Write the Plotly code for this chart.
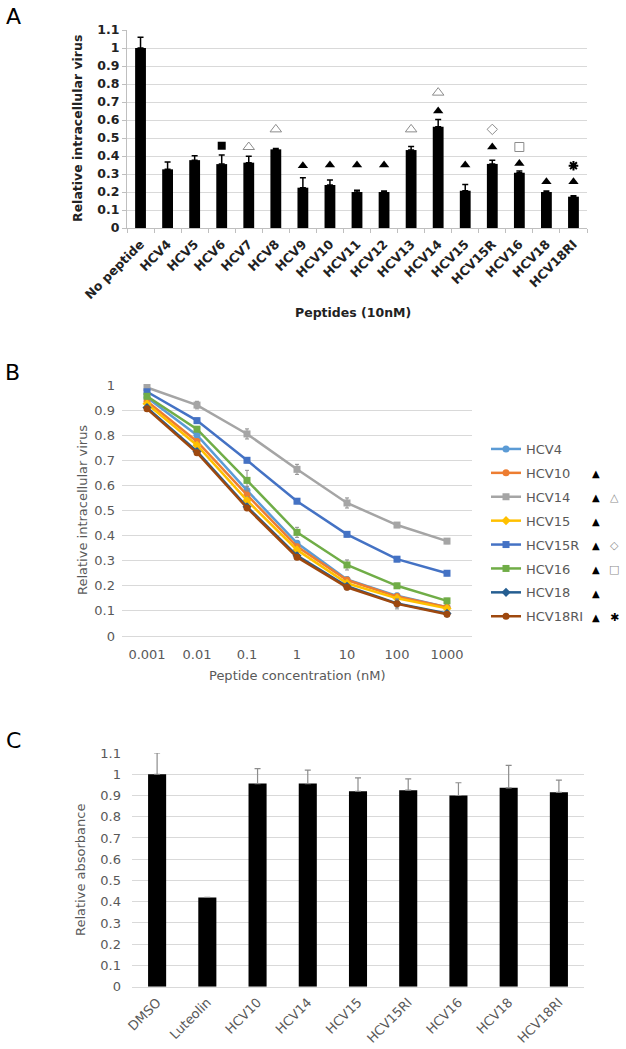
import plotly.graph_objects as go

W, H = 626, 1049
FONT = "DejaVu Sans"
GRID = "#D9D9D9"
TXT = "#595959"

# ---------------- Panel A data ----------------
a_categories = ["No peptide", "HCV4", "HCV5", "HCV6", "HCV7", "HCV8", "HCV9", "HCV10",
                "HCV11", "HCV12", "HCV13", "HCV14", "HCV15", "HCV15R", "HCV16", "HCV18", "HCV18RI"]
a_values = [1.0, 0.326, 0.377, 0.355, 0.363, 0.437, 0.224, 0.239, 0.2, 0.2,
            0.433, 0.563, 0.207, 0.356, 0.307, 0.2, 0.174]
a_errors = [0.06, 0.04, 0.025, 0.05, 0.035, 0.005, 0.055, 0.028, 0.01, 0.005,
            0.02, 0.04, 0.035, 0.02, 0.01, 0.005, 0.005]

# significance symbols (category, y)
a_filled_tri_cats = ["HCV9", "HCV10", "HCV11", "HCV12", "HCV14", "HCV15", "HCV15R", "HCV16", "HCV18", "HCV18RI"]
a_filled_tri_y = [0.346, 0.35, 0.35, 0.35, 0.65, 0.35, 0.45, 0.359, 0.257, 0.257]
a_open_tri_cats = ["HCV7", "HCV8", "HCV13", "HCV14"]
a_open_tri_y = [0.45, 0.548, 0.548, 0.752]
a_filled_sq_cats = ["HCV6"]
a_filled_sq_y = [0.457]
a_open_diam_cats = ["HCV15R"]
a_open_diam_y = [0.548]
a_open_sq_cats = ["HCV16"]
a_open_sq_y = [0.45]
a_star_cats = ["HCV18RI"]
a_star_y = [0.346]

# ---------------- Panel B data ----------------
b_conc = ["0.001", "0.01", "0.1", "1", "10", "100", "1000"]
b_series = {
    "HCV4":    [0.95, 0.80, 0.58, 0.37, 0.225, 0.16, 0.115],
    "HCV10":   [0.935, 0.775, 0.562, 0.356, 0.223, 0.157, 0.115],
    "HCV14":   [0.99, 0.92, 0.805, 0.664, 0.53, 0.442, 0.378],
    "HCV15":   [0.925, 0.76, 0.54, 0.343, 0.21, 0.15, 0.11],
    "HCV15R":  [0.973, 0.858, 0.70, 0.537, 0.405, 0.306, 0.25],
    "HCV16":   [0.955, 0.824, 0.62, 0.413, 0.283, 0.20, 0.14],
    "HCV18":   [0.91, 0.735, 0.515, 0.32, 0.198, 0.13, 0.09],
    "HCV18RI": [0.905, 0.73, 0.51, 0.314, 0.194, 0.128, 0.087],
}
b_errors = {
    "HCV4":    [0.01, 0.01, 0.015, 0.01, 0.01, 0.01, 0.01],
    "HCV10":   [0.01, 0.01, 0.015, 0.01, 0.01, 0.01, 0.01],
    "HCV14":   [0.01, 0.015, 0.02, 0.02, 0.02, 0.01, 0.01],
    "HCV15":   [0.01, 0.01, 0.015, 0.01, 0.01, 0.01, 0.01],
    "HCV15R":  [0.01, 0.01, 0.01, 0.01, 0.01, 0.01, 0.01],
    "HCV16":   [0.01, 0.01, 0.04, 0.02, 0.02, 0.01, 0.01],
    "HCV18":   [0.01, 0.01, 0.01, 0.01, 0.01, 0.015, 0.01],
    "HCV18RI": [0.01, 0.01, 0.01, 0.01, 0.01, 0.02, 0.01],
}
b_colors = {
    "HCV4": "#5B9BD5", "HCV10": "#ED7D31", "HCV14": "#A5A5A5", "HCV15": "#FFC000",
    "HCV15R": "#4472C4", "HCV16": "#70AD47", "HCV18": "#255E91", "HCV18RI": "#9E480E",
}
b_symbols = {
    "HCV4": "circle", "HCV10": "circle", "HCV14": "square", "HCV15": "diamond",
    "HCV15R": "square", "HCV16": "square", "HCV18": "diamond", "HCV18RI": "circle",
}
# significance marks shown after each legend entry
b_legend_first = ["", "▲", "▲", "▲", "▲", "▲", "▲", "▲"]
b_legend_second = ["", "", "△", "", "◇", "□", "", "✱"]

# ---------------- Panel C data ----------------
c_categories = ["DMSO", "Luteolin", "HCV10", "HCV14", "HCV15", "HCV15RI", "HCV16", "HCV18", "HCV18RI"]
c_values = [1.0, 0.42, 0.956, 0.956, 0.92, 0.925, 0.90, 0.936, 0.915]
c_errors = [0.10, 0.0, 0.07, 0.063, 0.063, 0.053, 0.06, 0.106, 0.057]

fig = go.Figure()

# Panel A bars
fig.add_trace(go.Bar(
    x=a_categories, y=a_values, marker=dict(color="black", line=dict(width=0)),
    error_y=dict(type="data", array=a_errors, symmetric=False, arrayminus=[0]*len(a_errors),
                 color="black", thickness=1.5, width=3),
    xaxis="x", yaxis="y", showlegend=False, width=0.4))

def sym_trace(cats, ys, symbol, size, color, lw=1, fill=None):
    return go.Scatter(x=cats, y=ys, mode="markers", xaxis="x", yaxis="y", showlegend=False,
                      cliponaxis=False,
                      marker=dict(symbol=symbol, size=size, color=fill if fill else color,
                                  line=dict(color=color, width=lw)))

fig.add_trace(sym_trace(a_filled_tri_cats, a_filled_tri_y, "triangle-up", 9, "black", 0, "black"))
fig.add_trace(sym_trace(a_open_tri_cats, a_open_tri_y, "triangle-up-open", 10, "#8C8C8C", 1))
fig.add_trace(sym_trace(a_filled_sq_cats, a_filled_sq_y, "square", 8, "black", 0, "black"))
fig.add_trace(sym_trace(a_open_diam_cats, a_open_diam_y, "diamond-open", 8, "#8C8C8C", 1))
fig.add_trace(sym_trace(a_open_sq_cats, a_open_sq_y, "square-open", 9, "#8C8C8C", 1))
fig.add_trace(sym_trace(a_star_cats, a_star_y, "asterisk-open", 8, "black", 2))

# Panel B lines
for name, vals in b_series.items():
    fig.add_trace(go.Scatter(
        x=b_conc, y=vals, name=name, legendgroup=name, mode="lines+markers",
        line=dict(color=b_colors[name], width=2.5),
        marker=dict(symbol=b_symbols[name], size=7, color=b_colors[name]),
        error_y=dict(type="data", array=b_errors[name], color="#8C8C8C", thickness=1, width=2),
        xaxis="x2", yaxis="y2", cliponaxis=False))

# Panel C bars
fig.add_trace(go.Bar(
    x=c_categories, y=c_values, marker=dict(color="black", line=dict(width=0)),
    error_y=dict(type="data", array=c_errors, symmetric=False, arrayminus=[0]*len(c_errors),
                 color="#8C8C8C", thickness=1.2, width=3),
    xaxis="x3", yaxis="y3", showlegend=False, width=0.36))

def dx(p0, p1):
    return [p0 / W, p1 / W]

def dy(top, bottom):
    return [1 - bottom / H, 1 - top / H]

fontA = dict(family=FONT, size=12.5, color="#222222", weight="bold")
fontB = dict(family=FONT, size=13, color=TXT)

fig.update_layout(
    width=W, height=H, margin=dict(l=0, r=0, t=0, b=0, pad=0, autoexpand=False),
    paper_bgcolor="white", plot_bgcolor="white",
    barmode="overlay",
    xaxis=dict(domain=dx(127, 587), type="category", range=[-0.5, len(a_categories) - 0.5],
               tickangle=-45, tickfont=fontA,
               showgrid=False, showline=True, linecolor="#BFBFBF", linewidth=1,
               ticks="outside", tickson="boundaries", ticklen=4, tickcolor="#BFBFBF",
               ticklabelstandoff=3, anchor="y", automargin=False),
    yaxis=dict(domain=dy(30, 228), range=[0, 1.1], dtick=0.1, tickfont=fontA,
               showgrid=True, gridcolor=GRID, gridwidth=1, zeroline=False,
               showline=True, linecolor="#BFBFBF", ticks="outside", ticklen=4,
               tickcolor="#BFBFBF", tickformat=".1~f", anchor="x", automargin=False),
    xaxis2=dict(domain=dx(122, 472), type="category", range=[-0.5, len(b_conc) - 0.5], tickfont=fontB,
                showgrid=False, showline=True, linecolor=GRID, ticks="", anchor="y2",
                ticklabelstandoff=6, automargin=False),
    yaxis2=dict(domain=dy(385, 636), range=[0, 1.0], dtick=0.1, tickfont=fontB,
                showgrid=True, gridcolor=GRID, zeroline=False, showline=False,
                tickformat=".1~f", anchor="x2", ticklabelstandoff=6, automargin=False),
    xaxis3=dict(domain=dx(132, 584), type="category", range=[-0.5, len(c_categories) - 0.5],
                tickangle=-45, tickfont=fontB,
                showgrid=False, showline=True, linecolor=GRID, ticks="", anchor="y3",
                ticklabelstandoff=2, automargin=False),
    yaxis3=dict(domain=dy(753, 986.7), range=[0, 1.1], dtick=0.1, tickfont=fontB,
                showgrid=True, gridcolor=GRID, zeroline=False, showline=False,
                tickformat=".1~f", anchor="x3", ticklabelstandoff=10, automargin=False),
    legend=dict(x=486 / W, y=1 - 434 / H, xanchor="left", yanchor="top",
                font=dict(family=FONT, size=13, color=TXT), tracegroupgap=4,
                bgcolor="rgba(0,0,0,0)", itemwidth=30),
)

ann = []
# panel letters
for letter, (px, py) in {"A": (13, 17), "B": (12, 372), "C": (13, 740)}.items():
    ann.append(dict(text=letter, x=px / W, y=1 - py / H, xref="paper", yref="paper",
                    xanchor="center", yanchor="middle",
                    showarrow=False, font=dict(family=FONT, size=22, color="black")))
# axis titles
ann.append(dict(text="Relative intracellular virus", x=77 / W, y=1 - 129 / H, xref="paper", yref="paper",
                xanchor="center", yanchor="middle",
                showarrow=False, textangle=-90, font=fontA))
ann.append(dict(text="Peptides (10nM)", x=353 / W, y=1 - 313 / H, xref="paper", yref="paper",
                xanchor="center", yanchor="middle",
                showarrow=False, font=fontA))
ann.append(dict(text="Relative intracellular virus", x=82 / W, y=1 - 510 / H, xref="paper", yref="paper",
                xanchor="center", yanchor="middle",
                showarrow=False, textangle=-90, font=fontB))
ann.append(dict(text="Peptide concentration (nM)", x=297 / W, y=1 - 675 / H, xref="paper", yref="paper",
                xanchor="center", yanchor="middle",
                showarrow=False, font=fontB))
ann.append(dict(text="Relative absorbance", x=80 / W, y=1 - 870 / H, xref="paper", yref="paper",
                xanchor="center", yanchor="middle",
                showarrow=False, textangle=-90, font=fontB))
# legend significance marks
for i, (m1, m2) in enumerate(zip(b_legend_first, b_legend_second)):
    yrow = 1 - (449 + 24 * i) / H
    if m1:
        ann.append(dict(text=m1, x=596 / W, y=yrow, xref="paper", yref="paper",
                        xanchor="center", yanchor="middle", showarrow=False,
                        font=dict(family=FONT, size=10, color="black")))
    if m2:
        col = "black" if m2 == "✱" else "#8C8C8C"
        ann.append(dict(text=m2, x=614 / W, y=yrow, xref="paper", yref="paper",
                        xanchor="center", yanchor="middle", showarrow=False,
                        font=dict(family="DejaVu Sans", size=11, color=col)))
fig.update_layout(annotations=ann)

fig.write_html("out.html", config={"displayModeBar": False},
               post_script="document.body.style.margin='0';document.body.style.overflow='hidden';")
